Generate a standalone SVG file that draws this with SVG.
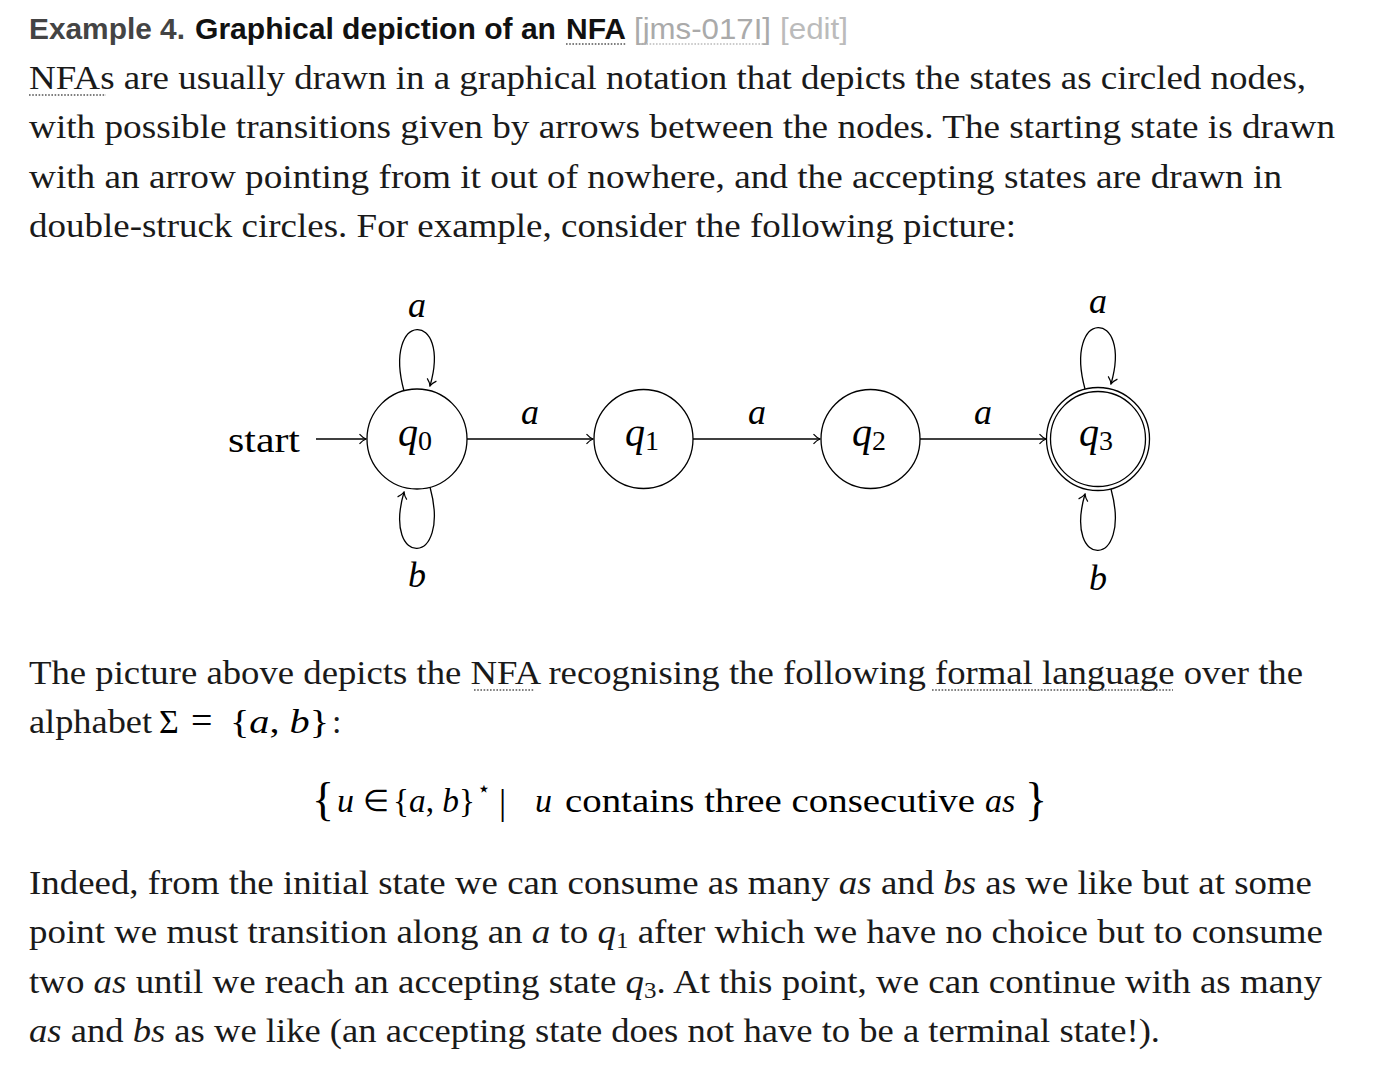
<svg xmlns="http://www.w3.org/2000/svg" width="1398" height="1084" viewBox="0 0 1398 1084">
<style>
.title{font-family:"Liberation Sans",Arial,sans-serif;font-size:30px;font-weight:bold}
.body{font-family:"Liberation Serif","Times New Roman",serif;font-size:34px;fill:#1a1a1a}
.math{font-family:"Liberation Serif","Times New Roman",serif;fill:#000}
.it{font-style:italic}
.lbl{font-family:"Liberation Serif","Times New Roman",serif;font-style:italic;font-size:36px;fill:#000;text-anchor:middle}
.node{fill:#fff;stroke:#000;stroke-width:1.3}
.edge{fill:none;stroke:#000;stroke-width:1.3}
.dots{stroke:#555;stroke-width:1.4;stroke-dasharray:1.6 1.6}
</style>
<defs>
<marker id="arr" viewBox="-8 -6 9 12" markerWidth="9" markerHeight="12" refX="0" refY="0" orient="auto" markerUnits="userSpaceOnUse">
<path d="M-6.5,-4.8 C-4.2,-2.2 -1.6,-0.6 0,0 C-1.6,0.6 -4.2,2.2 -6.5,4.8" fill="none" stroke="#000" stroke-width="1.2"/>
</marker>
</defs>
<rect width="1398" height="1084" fill="#fff"/>

<!-- Title -->
<g id="title">
<text class="title" x="29" y="39" fill="#444" textLength="156" lengthAdjust="spacingAndGlyphs">Example 4.</text>
<text class="title" x="195" y="39" fill="#111" textLength="361" lengthAdjust="spacingAndGlyphs">Graphical depiction of an</text>
<text class="title" x="566" y="39" fill="#111" textLength="60" lengthAdjust="spacingAndGlyphs">NFA</text>
<line class="dots" x1="566" y1="44" x2="626" y2="44"/>
<text class="title" x="634" y="39" fill="#aaa" style="font-weight:normal" textLength="137" lengthAdjust="spacingAndGlyphs">[jms-017I]</text>
<line class="dots" x1="640" y1="44" x2="764" y2="44" style="stroke:#bbb"/>
<text class="title" x="780" y="39" fill="#bbb" style="font-weight:normal" textLength="68" lengthAdjust="spacingAndGlyphs">[edit]</text>
</g>

<!-- Paragraph 1 -->
<g id="para1">
<text class="body" x="29" y="89" textLength="1277" lengthAdjust="spacingAndGlyphs">NFAs are usually drawn in a graphical notation that depicts the states as circled nodes,</text>
<line class="dots" x1="29" y1="95" x2="106" y2="95"/>
<text class="body" x="29" y="138" textLength="1306" lengthAdjust="spacingAndGlyphs">with possible transitions given by arrows between the nodes. The starting state is drawn</text>
<text class="body" x="29" y="188" textLength="1253" lengthAdjust="spacingAndGlyphs">with an arrow pointing from it out of nowhere, and the accepting states are drawn in</text>
<text class="body" x="29" y="237" textLength="987" lengthAdjust="spacingAndGlyphs">double-struck circles. For example, consider the following picture:</text>
</g>

<!-- Connectors -->
<g id="connectors">
<path class="edge" d="M316,439 H366" marker-end="url(#arr)"/>
<path class="edge" d="M467,439 H593" marker-end="url(#arr)"/>
<path class="edge" d="M693,439 H820" marker-end="url(#arr)"/>
<path class="edge" d="M920,439 H1046" marker-end="url(#arr)"/>
<path class="edge" d="M404,391 C382,310 452,310 430,386" marker-end="url(#arr)"/>
<path class="edge" d="M430,487 C452,568 382,568 404,492" marker-end="url(#arr)"/>
<path class="edge" d="M1085,389 C1063,308 1133,308 1111,384" marker-end="url(#arr)"/>
<path class="edge" d="M1111,489 C1133,570 1063,570 1085,494" marker-end="url(#arr)"/>
<text class="lbl" x="530" y="424">a</text>
<text class="lbl" x="757" y="424">a</text>
<text class="lbl" x="983" y="424">a</text>
<text class="lbl" x="417" y="317">a</text>
<text class="lbl" x="417" y="587">b</text>
<text class="lbl" x="1098" y="313">a</text>
<text class="lbl" x="1098" y="590">b</text>
</g>

<!-- Start label -->
<g id="start">
<text class="math" x="228" y="452" font-size="35" textLength="72" lengthAdjust="spacingAndGlyphs">start</text>
</g>

<!-- Nodes -->
<g id="q0">
<circle class="node" cx="417" cy="439" r="50"/>
<text class="math" x="415" y="446" text-anchor="middle" font-size="40"><tspan class="it">q</tspan><tspan font-size="28" dy="4">0</tspan></text>
</g>
<g id="q1">
<circle class="node" cx="643.5" cy="439" r="49.5"/>
<text class="math" x="642" y="446" text-anchor="middle" font-size="40"><tspan class="it">q</tspan><tspan font-size="28" dy="4">1</tspan></text>
</g>
<g id="q2">
<circle class="node" cx="870.5" cy="439" r="49.5"/>
<text class="math" x="869" y="446" text-anchor="middle" font-size="40"><tspan class="it">q</tspan><tspan font-size="28" dy="4">2</tspan></text>
</g>
<g id="q3">
<circle class="node" cx="1098" cy="439" r="51.5"/>
<circle class="node" cx="1098" cy="439" r="47.5"/>
<text class="math" x="1096" y="446" text-anchor="middle" font-size="40"><tspan class="it">q</tspan><tspan font-size="28" dy="4">3</tspan></text>
</g>

<!-- Paragraph 2 -->
<g id="para2">
<text class="body" x="29" y="684" textLength="1274" lengthAdjust="spacingAndGlyphs">The picture above depicts the NFA recognising the following formal language over the</text>
<line class="dots" x1="474" y1="690" x2="534" y2="690"/>
<line class="dots" x1="932" y1="690" x2="1173" y2="690"/>
<text class="body" x="29" y="733" textLength="123" lengthAdjust="spacingAndGlyphs">alphabet</text>
<text class="math" x="159" y="733" font-size="34">Σ</text>
<text class="math" x="191" y="733" font-size="38">=</text>
<text class="math" x="230" y="733" font-size="34" textLength="99" lengthAdjust="spacingAndGlyphs">{<tspan class="it">a</tspan>, <tspan class="it">b</tspan>}</text>
<text class="body" x="332" y="733">:</text>
</g>

<!-- Formula -->
<g id="formula">
<text class="math" x="312" y="815" font-size="46">{</text>
<text class="math it" x="337" y="812" font-size="34">u</text>
<text class="math" x="363" y="811" font-size="30">∈</text>
<text class="math" x="393" y="812" font-size="34" textLength="82" lengthAdjust="spacingAndGlyphs">{<tspan class="it">a</tspan>, <tspan class="it">b</tspan>}</text>
<text class="math" x="477" y="796" font-size="22">⋆</text>
<text class="math" x="499" y="814" font-size="36">|</text>
<text class="math it" x="535" y="812" font-size="34">u</text>
<text class="math" x="565" y="812" font-size="34" textLength="410" lengthAdjust="spacingAndGlyphs">contains three consecutive</text>
<text class="math it" x="985" y="812" font-size="34">as</text>
<text class="math" x="1025" y="815" font-size="46">}</text>
</g>

<!-- Paragraph 3 -->
<g id="para3">
<text class="body" x="29" y="894" textLength="1283" lengthAdjust="spacingAndGlyphs">Indeed, from the initial state we can consume as many <tspan class="it">as</tspan> and <tspan class="it">bs</tspan> as we like but at some</text>
<text class="body" x="29" y="943" textLength="1294" lengthAdjust="spacingAndGlyphs">point we must transition along an <tspan class="it">a</tspan> to <tspan class="it">q</tspan><tspan font-size="23" dy="5">1</tspan><tspan dy="-5"> after which we have no choice but to consume</tspan></text>
<text class="body" x="29" y="993" textLength="1293" lengthAdjust="spacingAndGlyphs">two <tspan class="it">as</tspan> until we reach an accepting state <tspan class="it">q</tspan><tspan font-size="23" dy="5">3</tspan><tspan dy="-5">. At this point, we can continue with as many</tspan></text>
<text class="body" x="29" y="1042" textLength="1131" lengthAdjust="spacingAndGlyphs"><tspan class="it">as</tspan> and <tspan class="it">bs</tspan> as we like (an accepting state does not have to be a terminal state!).</text>
</g>
</svg>
